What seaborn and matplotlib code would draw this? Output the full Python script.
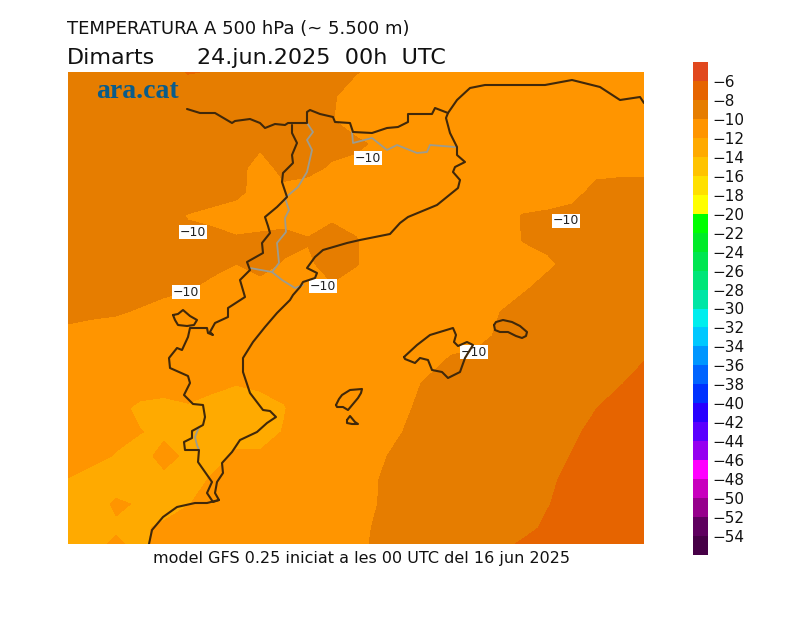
import matplotlib
matplotlib.use('Agg')

import numpy as np
import matplotlib.pyplot as plt
from matplotlib.colors import ListedColormap
import seaborn as sns

# --- grid of the map frame (same units as the 800x617 picture) ---
grid_x = [68, 92, 116, 140, 164, 188, 212, 236, 260, 284, 308, 332, 356, 380, 404, 428, 452, 476, 500, 524, 548, 572, 596, 620, 644]
grid_y = [72, 96, 120, 144, 168, 192, 216, 240, 264, 288, 312, 336, 360, 384, 408, 432, 456, 480, 504, 528, 552]

# temperature at 500 hPa, one row per grid_y
temp_rows = [
    [-9, -9, -9, -9, -9, -7.9, -8.1, -9, -9, -9, -9, -9.2, -9.9, -10.6, -11, -11, -11, -11, -11, -11, -11, -11, -11, -11, -11],
    [-9, -9, -9, -9, -9, -9, -9, -9, -9, -9, -9, -9.8, -10.8, -11, -11, -11, -11, -11, -11, -11, -11, -11, -11, -11, -11],
    [-9, -9, -9, -9, -9, -9, -9, -9, -9, -9, -9, -9.95, -10.7, -11, -11, -11, -11, -11, -11, -11, -11, -11, -11, -11, -11],
    [-9, -9, -9, -9, -9, -9, -9, -9, -9.7, -9.4, -9.2, -9.5, -9.7, -10.3, -11, -11, -11, -11, -11, -11, -11, -11, -11, -11, -11],
    [-9, -9, -9, -9, -9, -9, -9, -9.4, -10.7, -9.5, -9.6, -10.2, -10.5, -10.9, -11, -11, -11, -11, -11, -11, -11, -11, -10.4, -10.4, -10.4],
    [-9, -9, -9, -9, -9, -9.1, -9.35, -9.6, -10.6, -10.4, -10.7, -11, -11, -11, -11, -11, -11, -11, -11, -11, -10.75, -10.5, -9.6, -9.4, -9.4],
    [-9, -9, -9, -9, -9.4, -10.1, -10.4, -10.8, -10.8, -10.6, -10.8, -10.3, -10.6, -11, -11, -11, -11, -11, -10.5, -9.9, -9.75, -9.5, -9.2, -9, -9],
    [-9, -9, -9, -9, -9, -9.5, -9.5, -9.8, -9.6, -9.5, -9.9, -9.3, -9.9, -10.9, -11, -11, -11, -11, -10.9, -9.9, -9.5, -9, -9, -9, -9],
    [-9, -9, -9, -9, -9, -9, -9.5, -10, -9.5, -10.15, -10.3, -9.3, -9.9, -10.9, -11, -11, -11, -11, -11, -10.9, -10.3, -9.4, -9, -9, -9],
    [-9, -9, -9, -9.2, -9.6, -9.85, -10.45, -10.7, -10.5, -10.9, -10.4, -10.2, -10.8, -11, -11, -11, -11, -11, -10.9, -10.2, -9.4, -9, -9, -9, -9],
    [-9.5, -9.7, -9.8, -10.2, -10.6, -11, -11, -11, -11, -11, -11, -11, -11, -11, -11, -11, -11, -10.9, -10, -9.2, -9, -9, -9, -9, -9],
    [-10.5, -10.7, -11, -11, -11, -11, -11, -11, -11, -11, -11, -11, -11, -11, -11, -11, -11, -10.6, -9.7, -9, -9, -9, -9, -9, -9],
    [-11, -11, -11, -11, -11, -11, -11, -11, -11, -11, -11, -11, -11, -11, -11, -10.7, -9.75, -9.5, -9, -9, -9, -9, -9, -8.9, -8.05],
    [-11, -11, -11, -11.3, -11.5, -11.2, -11.6, -11.95, -11.7, -11.5, -11, -11, -11, -11, -10.7, -9.7, -9.2, -9, -9, -9, -9, -9, -8.95, -8.1, -7.3],
    [-11, -11.2, -11.6, -12.3, -12.4, -12.2, -12.6, -13, -12.7, -12.1, -11, -11, -11, -11, -10.3, -9.4, -9, -9, -9, -9, -9, -8.9, -8.05, -7.2, -7],
    [-11, -11, -11.6, -11.95, -12.3, -12.7, -13, -12.55, -12.75, -11.9, -11, -11, -11, -10.9, -9.95, -9.1, -9, -9, -9, -9, -9, -8.4, -7.4, -7, -7],
    [-11.1, -11.6, -12.1, -12.6, -11.5, -12.3, -12.6, -11.8, -11.75, -11.3, -11, -11, -11, -10.3, -9.3, -9, -9, -9, -9, -9, -8.9, -7.9, -7.1, -7, -7],
    [-12.1, -12.6, -13, -13, -12.4, -12.8, -11.8, -11, -11, -11, -11, -11, -11, -9.95, -9, -9, -9, -9, -9, -9, -8.4, -7.4, -7, -7, -7],
    [-13, -13, -11.7, -12.2, -12.9, -12.1, -11.2, -11, -11, -11, -11, -11, -10.9, -9.9, -9, -9, -9, -9, -9, -9, -8.1, -7.2, -7, -7, -7],
    [-13, -12.5, -12.3, -12.35, -11.6, -11, -11, -11, -11, -11, -11, -11, -10.7, -9.6, -9, -9, -9, -9, -9, -8.6, -7.6, -7, -7, -7, -7],
    [-13, -12.3, -11.3, -12.3, -11.4, -11, -11, -11, -11, -11, -11, -11, -10.5, -9.5, -9, -9, -9, -8.9, -8.1, -7.2, -7, -7, -7, -7, -7],
]

# colour scale, warm end first
scale_labels = [-6, -8, -10, -12, -14, -16, -18, -20, -22, -24, -26, -28, -30, -32, -34, -36, -38, -40, -42, -44, -46, -48, -50, -52, -54]
scale_colors = ['#E1481E', '#E66400', '#E67D00', '#FF9500', '#FFAA00', '#FFC300', '#FFE000', '#FFFF00',
                '#00FF00', '#00EB28', '#00E650', '#00E678', '#00E6A5', '#00EEEE', '#00C8FF', '#0096FF',
                '#0064FF', '#0032FF', '#2800FF', '#5A00FF', '#9600F0', '#FF00FF', '#C800BE', '#96008C',
                '#5F005F', '#460046']

# coast and borders
north_x = [187, 200, 215, 232, 235, 250, 260, 265, 275, 285, 288, 293, 307, 307, 310, 320, 333, 335, 350, 353, 372, 387, 398, 408, 408, 432, 435, 448, 457, 470, 485, 510, 545, 572, 600, 620, 640, 644]
north_y = [109, 113, 113, 123, 121, 119, 123, 128, 124, 125, 123, 123, 123, 112, 110, 114, 117, 122, 123, 132, 133, 128, 127, 122, 114, 114, 108, 113, 100, 88, 85, 85, 85, 80, 87, 100, 97, 103]
coast_x = [448, 446, 450, 457, 457, 465, 455, 453, 460, 458, 437, 408, 400, 390, 360, 347, 323, 315, 307, 317, 315, 303, 300, 293, 290, 277, 265, 253, 243, 243, 250, 263, 270, 276, 267, 257, 240, 232, 222, 223, 217, 215, 219, 207, 195, 177, 163, 152, 149]
coast_y = [113, 118, 133, 147, 155, 162, 167, 172, 180, 188, 205, 217, 223, 234, 240, 243, 250, 257, 268, 273, 278, 282, 287, 295, 300, 313, 327, 342, 358, 372, 393, 410, 411, 417, 423, 432, 440, 452, 463, 473, 482, 493, 500, 503, 503, 507, 517, 530, 544]
inland_x = [292, 292, 297, 292, 293, 283, 282, 287, 277, 265, 268, 270, 262, 263, 247, 250, 240, 245, 228, 228, 215, 210, 213, 208, 207, 190, 188, 182, 177, 169, 170, 188, 190, 184, 193, 203, 205, 203, 192, 192, 184, 185, 199, 198, 212, 207, 213, 219]
inland_y = [125, 133, 143, 155, 163, 173, 182, 197, 207, 217, 226, 233, 243, 253, 262, 270, 280, 297, 308, 317, 323, 332, 335, 333, 328, 328, 337, 350, 348, 358, 368, 376, 383, 395, 404, 405, 417, 425, 431, 438, 442, 450, 450, 462, 482, 493, 502, 500]
enclave_x = [173, 178, 183, 190, 197, 194, 187, 178, 175, 173]
enclave_y = [315, 314, 310, 316, 320, 325, 326, 325, 320, 315]
mallorca_x = [404, 417, 430, 453, 456, 454, 458, 467, 473, 465, 460, 448, 442, 432, 428, 420, 415, 405, 404]
mallorca_y = [357, 345, 335, 328, 335, 342, 346, 342, 345, 358, 372, 378, 372, 370, 360, 358, 363, 359, 357]
menorca_x = [494, 496, 503, 512, 520, 527, 526, 522, 516, 508, 500, 495, 494]
menorca_y = [325, 322, 320, 322, 326, 332, 336, 338, 336, 332, 332, 330, 325]
ibiza_x = [336, 339, 342, 350, 362, 361, 358, 348, 343, 337, 336]
ibiza_y = [405, 399, 395, 390, 389, 393, 398, 410, 407, 407, 405]
formentera_x = [347, 350, 355, 358, 352, 347, 347]
formentera_y = [420, 416, 422, 424, 424, 423, 420]
border1_x = [307, 313, 307, 312, 307, 298, 285, 289, 285, 286, 277, 279, 272, 250]
border1_y = [123, 132, 140, 150, 172, 187, 198, 210, 218, 232, 243, 263, 272, 268]
border2_x = [272, 282, 295, 303]
border2_y = [272, 280, 288, 285]
border3_x = [352, 353, 372, 387, 397, 417, 427, 430, 455]
border3_y = [132, 143, 138, 150, 145, 153, 152, 145, 147]
border4_x = [199, 195, 197, 199]
border4_y = [427, 437, 445, 450]

# contour labels
label_x = [368, 193, 186, 323, 474, 566]
label_y = [158, 232, 292, 286, 352, 221]


sns.set_theme(style="white")
plt.rcParams['font.family'] = ['DejaVu Sans']

fig = plt.figure(figsize=(8, 6.17), dpi=100)
ax = fig.add_axes([68 / 800, 1 - 544 / 617, 576 / 800, 472 / 617])
cax = fig.add_axes([693 / 800, 1 - 555 / 617, 15 / 800, 493 / 617])

# --- temperature field ---
temp = np.array(temp_rows)
levels = np.arange(-56, -3, 2)
ax.contourf(grid_x, grid_y, temp, levels=levels, colors=scale_colors[::-1], zorder=1)

# --- borders and coast ---
for xs, ys in [(border1_x, border1_y), (border2_x, border2_y), (border3_x, border3_y), (border4_x, border4_y)]:
    sns.lineplot(x=xs, y=ys, sort=False, estimator=None, color='#9C9C90', linewidth=1.3,
                 solid_joinstyle='round', ax=ax, zorder=2)

for xs, ys in [(north_x, north_y), (coast_x, coast_y), (inland_x, inland_y), (enclave_x, enclave_y),
               (mallorca_x, mallorca_y), (menorca_x, menorca_y), (ibiza_x, ibiza_y), (formentera_x, formentera_y)]:
    sns.lineplot(x=xs, y=ys, sort=False, estimator=None, color='#40280A', linewidth=1.5,
                 solid_joinstyle='round', ax=ax, zorder=4)

for lx, ly in zip(label_x, label_y):
    ax.text(lx, ly, '\u221210', ha='center', va='center', fontsize=9, color='#222222', zorder=3,
            bbox=dict(facecolor='white', edgecolor='none', pad=0.6))

ax.text(96, 91, 'ara.cat', ha='left', va='center', fontsize=20, fontweight='bold',
        family='Liberation Serif', color='#0A5C8A', zorder=5)

ax.set_xlim(68, 644)
ax.set_ylim(544, 72)
ax.set_xlabel('')
ax.set_ylabel('')
ax.axis('off')

# --- colour scale ---
strip = np.arange(len(scale_colors)).reshape(-1, 1)
sns.heatmap(strip, cmap=ListedColormap(scale_colors), cbar=False, ax=cax,
            xticklabels=False, yticklabels=False)
cax.yaxis.tick_right()
cax.set_yticks(np.arange(1, len(scale_colors)))
cax.set_yticklabels([str(v).replace('-', '\u2212') for v in scale_labels], rotation=0, fontsize=11, color='#111111')
cax.tick_params(axis='y', length=0, pad=3.5)

# --- titles ---
fig.text(67 / 800, 1 - 29 / 617, 'TEMPERATURA A 500 hPa (~ 5.500 m)', ha='left', va='center', fontsize=13, color='#111111')
fig.text(67 / 800, 1 - 58 / 617, 'Dimarts', ha='left', va='center', fontsize=16, color='#111111')
fig.text(197 / 800, 1 - 58 / 617, '24.jun.2025  00h  UTC', ha='left', va='center', fontsize=16, color='#111111')
fig.text(153 / 800, 1 - 559 / 617, 'model GFS 0.25 iniciat a les 00 UTC del 16 jun 2025', ha='left', va='center', fontsize=11.5, color='#111111')

fig.savefig('out.png', dpi=100)
